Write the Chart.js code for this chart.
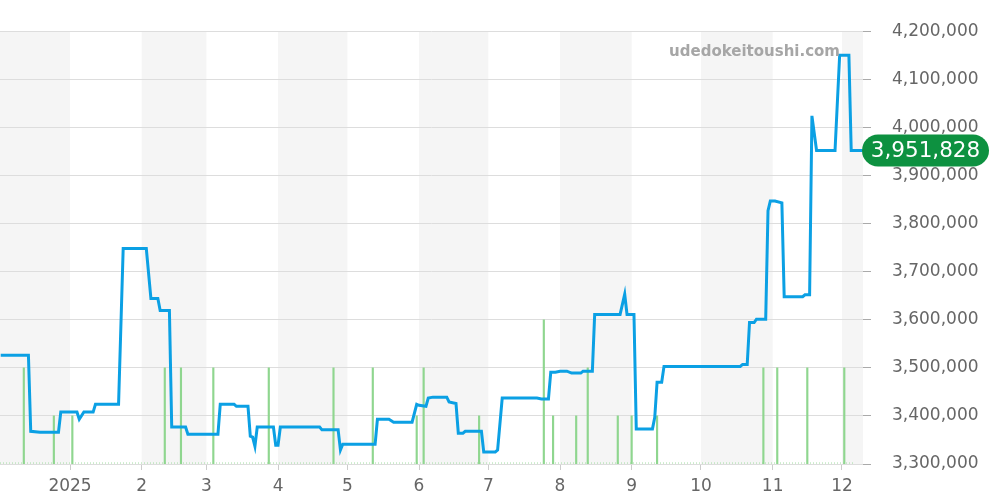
<!DOCTYPE html>
<html>
<head>
<meta charset="utf-8">
<script src="https://cdn.jsdelivr.net/npm/chart.js@4.4.1/dist/chart.umd.min.js"></script>
<style>
  html, body { margin: 0; padding: 0; background: #ffffff; }
  #wrap { width: 1000px; height: 500px; position: relative; }
</style>
</head>
<body>
<div id="wrap"><canvas id="c" width="1000" height="500"></canvas></div>
<script>
// ---- data ----
const priceDates = [
  '2024-12-02','2024-12-14','2024-12-15','2024-12-19','2024-12-27','2024-12-28',
  '2025-01-04','2025-01-05','2025-01-07','2025-01-11','2025-01-12','2025-01-22','2025-01-24',
  '2025-02-03','2025-02-05','2025-02-08','2025-02-09','2025-02-13','2025-02-14','2025-02-20','2025-02-21',
  '2025-03-06','2025-03-07','2025-03-13','2025-03-14','2025-03-19','2025-03-20','2025-03-21','2025-03-22','2025-03-23','2025-03-30','2025-03-31',
  '2025-04-01','2025-04-02','2025-04-19','2025-04-20','2025-04-27','2025-04-28','2025-04-29',
  '2025-05-13','2025-05-14','2025-05-19','2025-05-21','2025-05-29','2025-05-31',
  '2025-06-01','2025-06-04','2025-06-05','2025-06-07','2025-06-13','2025-06-14','2025-06-17','2025-06-18','2025-06-20','2025-06-21','2025-06-28','2025-06-29',
  '2025-07-04','2025-07-05','2025-07-07','2025-07-22','2025-07-24','2025-07-27','2025-07-28','2025-07-30',
  '2025-08-01','2025-08-04','2025-08-06','2025-08-10','2025-08-11','2025-08-15','2025-08-16','2025-08-27','2025-08-29','2025-08-30',
  '2025-09-02','2025-09-03','2025-09-10','2025-09-11','2025-09-12','2025-09-14','2025-09-15',
  '2025-10-18','2025-10-19','2025-10-21','2025-10-22','2025-10-24','2025-10-25','2025-10-29','2025-10-30','2025-10-31',
  '2025-11-02','2025-11-05','2025-11-06','2025-11-14','2025-11-15','2025-11-17','2025-11-18','2025-11-20','2025-11-28','2025-11-30',
  '2025-12-04','2025-12-05','2025-12-10'
];
const priceValues = [
  3526000,3526000,3368000,3366000,3366000,3408000,
  3408000,3393000,3408000,3408000,3424000,3424000,3748000,
  3748000,3644000,3644000,3619000,3619000,3377000,3377000,3362000,
  3362000,3424000,3424000,3420000,3420000,3358000,3356000,3337000,3377000,3377000,3339000,
  3339000,3377000,3377000,3371000,3371000,3329000,3341000,
  3341000,3393000,3393000,3387000,3387000,3424000,
  3422000,3420000,3437000,3439000,3439000,3429000,3426000,3364000,3364000,3368000,3368000,3325000,
  3325000,3329000,3437000,3437000,3435000,3435000,3491000,3491000,
  3493000,3493000,3489000,3489000,3493000,3493000,3611000,3611000,3653000,3611000,
  3611000,3373000,3373000,3397000,3470000,3470000,3503000,
  3503000,3507000,3507000,3594000,3594000,3601000,3601000,3827000,3847000,
  3847000,3843000,3648000,3648000,3652000,3652000,4024000,3951828,3951828,4150000,
  4150000,3951828,3951828
];
const volumeDates = [
  '2024-12-12','2024-12-25','2025-01-02','2025-02-11','2025-02-18','2025-03-04','2025-03-28','2025-04-25',
  '2025-05-12','2025-05-31','2025-06-03','2025-06-27','2025-07-25','2025-07-29','2025-08-08','2025-08-13',
  '2025-08-26','2025-09-01','2025-09-12','2025-10-28','2025-11-03','2025-11-16','2025-12-02'
];
const volumeCounts = [2,1,1,2,2,2,2,2, 2,1,2,1,3,1,1,2, 1,1,1,2,2,2,2];
const monthTickDates = ['2025-01-01','2025-02-01','2025-03-01','2025-04-01','2025-05-01','2025-06-01',
  '2025-07-01','2025-08-01','2025-09-01','2025-10-01','2025-11-01','2025-12-01'];
const monthTickLabels = ['2025','2','3','4','5','6','7','8','9','10','11','12'];
const shadedMonths = [['2024-12-01','2025-01-01'],['2025-02-01','2025-03-01'],['2025-04-01','2025-05-01'],
  ['2025-06-01','2025-07-01'],['2025-08-01','2025-09-01'],['2025-10-01','2025-11-01'],['2025-12-01','2026-01-01']];
const latestPrice = 3951828;
const watermark = 'udedokeitoushi.com';

// ---- helpers ----
function dayNum(s) {
  const p = s.split('-').map(Number);
  return (Date.UTC(p[0], p[1]-1, p[2]) - Date.UTC(2025, 0, 1)) / 86400000;
}
const fmt = v => v.toLocaleString('en-US');
const linePts = priceDates.map((d, i) => ({x: dayNum(d), y: priceValues[i]}));
const volPts = volumeDates.map((d, i) => ({x: dayNum(d), y: volumeCounts[i]}));
const tickDays = monthTickDates.map(dayNum);
const X_MIN = -30.3, X_MAX = 343.1;
const FONT = 'DejaVu Sans, sans-serif';

const bandsUnder = {
  id: 'bandsUnder',
  beforeDraw(chart) {
    const {ctx, chartArea: a, scales: {x}} = chart;
    ctx.save();
    ctx.beginPath(); ctx.rect(a.left, a.top, a.right - a.left, a.bottom - a.top); ctx.clip();
    ctx.fillStyle = '#f5f5f5';
    shadedMonths.forEach(([s, e]) => {
      const x0 = x.getPixelForValue(dayNum(s)), x1 = x.getPixelForValue(dayNum(e));
      ctx.fillRect(x0, a.top, x1 - x0, a.bottom - a.top);
    });
    ctx.restore();
  }
};
const overlayPlugin = {
  id: 'overlay',
  afterDraw(chart) {
    const {ctx, chartArea: a, scales: {y}} = chart;
    ctx.save();
    ctx.font = 'bold 15px ' + FONT;
    ctx.fillStyle = '#a6a6a6';
    ctx.textAlign = 'right';
    ctx.textBaseline = 'middle';
    ctx.fillText(watermark, 840, 52);
    const yy = y.getPixelForValue(latestPrice);
    const x0 = a.right - 1, w = 127, h = 32, r = 16;
    ctx.fillStyle = '#0d9140';
    ctx.beginPath();
    ctx.moveTo(x0 + r, yy - h/2);
    ctx.lineTo(x0 + w - r, yy - h/2);
    ctx.arc(x0 + w - r, yy, r, -Math.PI/2, Math.PI/2);
    ctx.lineTo(x0 + r, yy + h/2);
    ctx.arc(x0 + r, yy, r, Math.PI/2, Math.PI*1.5);
    ctx.closePath();
    ctx.fill();
    ctx.fillStyle = '#ffffff';
    ctx.font = '21.5px ' + FONT;
    ctx.textAlign = 'center';
    ctx.fillText(fmt(latestPrice), x0 + w/2, yy + 1);
    ctx.restore();
  }
};

new Chart(document.getElementById('c'), {
  type: 'line',
  data: {
    datasets: [
      {
        type: 'line', label: 'price', data: linePts, yAxisID: 'y',
        borderColor: '#0ba0e4', borderWidth: 3, pointRadius: 0, tension: 0,
        fill: false, order: 1
      },
      {
        type: 'bar', label: 'volume', data: volPts, yAxisID: 'y2',
        backgroundColor: '#8fd68f', barThickness: 1.5, order: 2
      },
      {
        type: 'line', label: 'base', data: [{x: X_MIN, y: 0.02}, {x: 339, y: 0.02}], yAxisID: 'y2',
        borderColor: '#9fdc9f', borderWidth: 1, borderDash: [1, 2], pointRadius: 0, order: 3
      }
    ]
  },
  options: {
    responsive: false,
    animation: false,
    layout: { padding: { top: 29, left: 0, right: 0, bottom: 0 } },
    plugins: { legend: { display: false }, tooltip: { enabled: false } },
    scales: {
      x: {
        type: 'linear', min: X_MIN, max: X_MAX, offset: false,
        afterBuildTicks(scale) { scale.ticks = tickDays.map(v => ({value: v})); },
        afterFit(scale) { scale.height = 36; },
        grid: { offset: false, drawOnChartArea: false, drawTicks: true, tickLength: 6, color: '#cccccc' },
        border: { display: false },
        ticks: {
          autoSkip: false, maxRotation: 0, padding: 6,
          color: '#666666', font: { family: FONT, size: 17 },
          callback(v) { const i = tickDays.indexOf(v); return i >= 0 ? monthTickLabels[i] : ''; }
        }
      },
      y: {
        type: 'linear', position: 'right', min: 3300000, max: 4200000,
        afterFit(scale) { scale.width = 137; },
        grid: { color: '#dddddd', tickLength: 8, tickColor: '#aaaaaa' },
        border: { display: false },
        ticks: {
          stepSize: 100000, padding: 21, color: '#666666',
          font: { family: FONT, size: 17 },
          callback: v => fmt(v)
        }
      },
      y2: { type: 'linear', display: false, min: 0, max: 9 }
    }
  },
  plugins: [bandsUnder, overlayPlugin]
});
</script>
</body>
</html>
